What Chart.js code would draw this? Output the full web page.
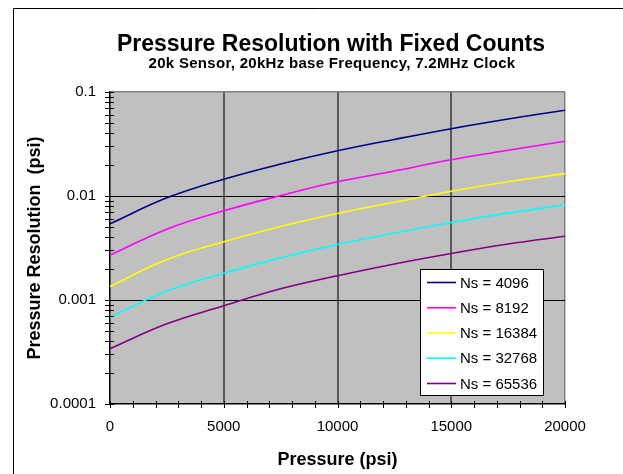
<!DOCTYPE html>
<html>
<head>
<meta charset="utf-8">
<title>Pressure Resolution with Fixed Counts</title>
<script src="https://cdn.jsdelivr.net/npm/chart.js@4.4.0/dist/chart.umd.min.js"></script>
<style>
  html, body { margin: 0; padding: 0; background: #fff; }
  canvas { display: block; }
</style>
</head>
<body>
<canvas id="myChart" width="623" height="474"></canvas>
<script>
// pressure (psi) and resolution (psi) for each sample count
const pressure = [0, 2500, 5000, 7500, 10000, 12500, 15000, 17500, 20000];
const ns4096 = [0.0054, 0.0096, 0.0145, 0.0203, 0.0272, 0.035, 0.0444, 0.055, 0.0668];
const ns8192 = [0.0027, 0.0048, 0.0072, 0.0101, 0.0137, 0.0174, 0.0223, 0.0275, 0.0336];
const ns16384 = [0.00135, 0.00245, 0.00363, 0.0051, 0.0068, 0.0087, 0.0111, 0.0137, 0.0164];
const ns32768 = [0.00068, 0.00122, 0.00181, 0.00254, 0.00342, 0.0044, 0.00556, 0.00685, 0.0082];
const ns65536 = [0.00034, 0.00059, 0.00088, 0.00128, 0.00171, 0.00222, 0.0028, 0.00345, 0.0041];

const seriesLabels = ["Ns = 4096", "Ns = 8192", "Ns = 16384", "Ns = 32768", "Ns = 65536"];
const seriesValues = [ns4096, ns8192, ns16384, ns32768, ns65536];
const seriesColors = ["#000080", "#FF00FF", "#FFFF00", "#00FFFF", "#800080"];

const yMajorTicks = [0.0001, 0.001, 0.01, 0.1];
const xTickStep = 1000;
const xLabelStep = 5000;

const titleText = "Pressure Resolution with Fixed Counts";
const subtitleText = "20k Sensor, 20kHz base Frequency, 7.2MHz Clock";
const xTitle = "Pressure (psi)";
const yTitle = "Pressure Resolution  (psi)";

const font = "'Liberation Sans', Arial, sans-serif";

// 1..9 in every decade, plus the top value
const yTickValues = [];
for (let e = -4; e <= -2; e++) {
  for (let m = 1; m <= 9; m++) {
    yTickValues.push(Number((m * Math.pow(10, e)).toPrecision(3)));
  }
}
yTickValues.push(0.1);

const xTickValues = [];
for (let v = 0; v <= 20000; v += xTickStep) xTickValues.push(v);

const datasets = seriesValues.map((values, i) => ({
  label: seriesLabels[i],
  data: values.map((y, j) => ({ x: pressure[j], y: y })),
  borderColor: seriesColors[i],
  backgroundColor: seriesColors[i],
  borderWidth: 1.6,
  pointRadius: 0,
  tension: 0.4,
  fill: false,
}));

const plotBackground = {
  id: "plotBackground",
  beforeDraw(chart) {
    const { ctx, chartArea: a } = chart;
    ctx.save();
    ctx.fillStyle = "#C0C0C0";
    ctx.fillRect(a.left, a.top, a.right - a.left, a.bottom - a.top);
    // outer frame, only top and left fit on the page
    ctx.strokeStyle = "#000";
    ctx.lineWidth = 1;
    ctx.beginPath();
    ctx.moveTo(13.5, 474);
    ctx.lineTo(13.5, 8.5);
    ctx.lineTo(623, 8.5);
    ctx.stroke();
    ctx.restore();
  },
};

// tick marks crossing both axes
const crossTicks = {
  id: "crossTicks",
  afterDatasetsDraw(chart) {
    const { ctx, chartArea: a, scales } = chart;
    ctx.save();
    ctx.strokeStyle = "#000";
    ctx.lineWidth = 1;
    ctx.beginPath();
    scales.y.ticks.forEach((t) => {
      const y = Math.round(scales.y.getPixelForValue(t.value)) + 0.5;
      ctx.moveTo(a.left - 5, y);
      ctx.lineTo(a.left + 4, y);
    });
    scales.x.ticks.forEach((t) => {
      const x = Math.round(scales.x.getPixelForValue(t.value)) + 0.5;
      ctx.moveTo(x, a.bottom - 3);
      ctx.lineTo(x, a.bottom + 4);
    });
    ctx.stroke();
    ctx.restore();
  },
};

const textAndLegend = {
  id: "textAndLegend",
  afterDraw(chart) {
    const { ctx, chartArea: a } = chart;
    ctx.save();
    ctx.fillStyle = "#000";
    ctx.textAlign = "center";
    ctx.textBaseline = "alphabetic";
    ctx.font = `bold 23px ${font}`;
    ctx.fillText(titleText, 331, 51);
    ctx.font = `bold 15px ${font}`;
    ctx.letterSpacing = "0.3px";
    ctx.fillText(subtitleText, 332, 68);
    ctx.letterSpacing = "0px";

    ctx.font = `bold 18px ${font}`;
    ctx.fillText(xTitle, (a.left + a.right) / 2, 465);
    ctx.save();
    ctx.translate(40, (a.top + a.bottom) / 2);
    ctx.rotate(-Math.PI / 2);
    ctx.fillText(yTitle, 0, 0);
    ctx.restore();

    // legend box
    const box = { x: 420.5, y: 269.5, w: 123, h: 126 };
    ctx.fillStyle = "#fff";
    ctx.fillRect(box.x, box.y, box.w, box.h);
    ctx.strokeStyle = "#000";
    ctx.lineWidth = 1;
    ctx.strokeRect(box.x, box.y, box.w, box.h);
    ctx.font = `15px ${font}`;
    ctx.textAlign = "left";
    ctx.textBaseline = "middle";
    chart.data.datasets.forEach((ds, i) => {
      const y = 282.5 + i * 25.25;
      ctx.strokeStyle = ds.borderColor;
      ctx.lineWidth = 1.6;
      ctx.beginPath();
      ctx.moveTo(427, y);
      ctx.lineTo(456, y);
      ctx.stroke();
      ctx.fillStyle = "#000";
      ctx.fillText(ds.label, 460, y + 1);
    });
    ctx.restore();
  },
};

new Chart(document.getElementById("myChart"), {
  type: "line",
  data: { datasets: datasets },
  plugins: [plotBackground, crossTicks, textAndLegend],
  options: {
    responsive: false,
    animation: false,
    devicePixelRatio: 1,
    layout: { padding: { top: 92, right: 58, bottom: 0, left: 0 } },
    plugins: {
      legend: { display: false },
      tooltip: { enabled: false },
      title: { display: false },
    },
    scales: {
      x: {
        type: "linear",
        min: 0,
        max: 20000,
        afterBuildTicks: (scale) => {
          scale.ticks = xTickValues.map((v) => ({ value: v }));
        },
        afterFit: (scale) => {
          scale.height = 70;
        },
        ticks: {
          autoSkip: false,
          maxRotation: 0,
          padding: 14,
          color: "#000",
          font: { family: font, size: 15 },
          callback: (v) => (v % xLabelStep === 0 ? String(v) : ""),
        },
        grid: {
          drawTicks: false,
          color: (c) => {
            const v = c.tick && c.tick.value;
            if (v === 20000) return "#808080";
            if (v > 0 && v % xLabelStep === 0) return "#595959";
            return "rgba(0,0,0,0)";
          },
          lineWidth: (c) => (c.tick && c.tick.value === 20000 ? 1.5 : 2),
        },
        border: { color: "#000", width: 1.5 },
      },
      y: {
        type: "logarithmic",
        min: 0.0001,
        max: 0.1,
        afterBuildTicks: (scale) => {
          scale.ticks = yTickValues.map((v) => ({ value: v, major: yMajorTicks.includes(v) }));
        },
        afterFit: (scale) => {
          scale.width = 110;
        },
        ticks: {
          autoSkip: false,
          padding: 14,
          color: "#000",
          font: { family: font, size: 15 },
          callback: (v) => (yMajorTicks.includes(v) ? String(v) : ""),
        },
        grid: {
          drawTicks: false,
          color: (c) => {
            const v = c.tick && c.tick.value;
            if (v === 0.1) return "#808080";
            if (v === 0.01 || v === 0.001) return "#000";
            return "rgba(0,0,0,0)";
          },
          lineWidth: (c) => (c.tick && c.tick.value === 0.1 ? 1.5 : 1),
        },
        border: { color: "#000", width: 1.5 },
      },
    },
  },
});
</script>
</body>
</html>
